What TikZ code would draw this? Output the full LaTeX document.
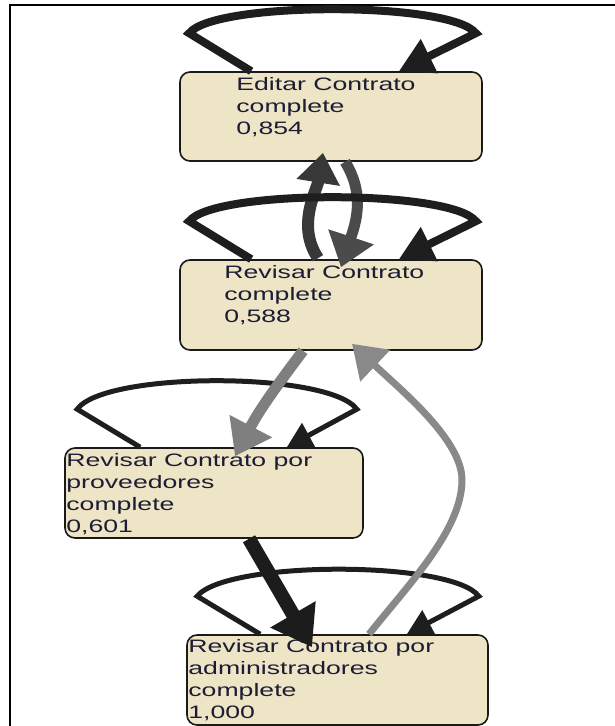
\documentclass[tikz,border=0pt]{standalone}
\usepackage{fontspec}
\newfontfamily\lblfont[FakeStretch=1.48]{Liberation Sans}
\usetikzlibrary{arrows.meta,calc}
\definecolor{boxfill}{HTML}{EEE4C6}
\definecolor{boxline}{HTML}{1A1A1A}
\definecolor{txt}{HTML}{1C1C34}
\definecolor{loopc}{HTML}{1E1E1E}
\definecolor{eup}{HTML}{383838}
\definecolor{edown}{HTML}{4B4B4B}
\definecolor{egray}{HTML}{7F7F7F}
\definecolor{eblack}{HTML}{1C1C1C}
\definecolor{eback}{HTML}{898989}
\tikzset{
  box/.style={draw=boxline, fill=boxfill, line width=1.6pt, rounded corners=10pt, rectangle, inner sep=0pt},
  lbl/.style={font=\lblfont\fontsize{18pt}{22pt}\selectfont, align=left, inner sep=0pt, anchor=base west, text=txt},
  loopthick/.style={draw=loopc, line width=8pt, line join=miter, -{Triangle[length=34pt,width=36pt]}},
  loopthin/.style={draw=loopc, line width=5pt, line join=miter, -{Triangle[length=25pt,width=27pt]}},
}
\begin{document}
\begin{tikzpicture}[x=1pt,y=-1pt]
\useasboundingbox (0,0) rectangle (615,726);
% frame
\draw[line width=2pt, black] (10,726) -- (10,5) -- (615,5);
% boxes
\node[box, minimum width=302pt, minimum height=89pt] (n1) at (331,116.5) {};
\node[box, minimum width=302pt, minimum height=90pt] (n2) at (331,305) {};
\node[box, minimum width=298pt, minimum height=90pt] (n3) at (214,493) {};
\node[box, minimum width=301pt, minimum height=90pt] (n4) at (337.5,680) {};
% labels (base anchor = baseline of the last line)
\node[lbl] (t1) at ($(n1.north west)+(57,63)$) {Editar Contrato\\complete\\0,854};
\node[lbl] (t2) at ($(n2.north west)+(45,63)$) {Revisar Contrato\\complete\\0,588};
\node[lbl] (t3) at ($(n3.north west)+(2,85)$) {Revisar Contrato por\\proveedores\\complete\\0,601};
\node[lbl] (t4) at ($(n4.north west)+(2,84)$) {Revisar Contrato por\\administradores\\complete\\1,000};
% edges between n1 and n2
\draw[eup, line width=12pt, -{Triangle[length=30pt,width=42pt]}]
  ($(n2.north)+(-13,-1)$) .. controls (296,225) and (317,190) .. ($(n1.south)+(-8,-9)$);
\draw[edown, line width=11pt, -{Triangle[length=32pt,width=46pt]}]
  ($(n1.south)+(14,0)$) .. controls (366,195) and (355,225) .. ($(n2.north)+(10,8)$);
% self loops n1, n2
\draw[loopthick] ($(n1.north west)+(72,0)$) -- ($(n1.north west)+(10,-38)$)
  .. controls ($(n1.north west)+(35,-70)$) and ($(n1.north east)+(-32,-70)$) .. ($(n1.north east)+(-7,-38)$)
  -- ($(n1.north east)+(-84,0)$);
\draw[loopthick] ($(n2.north west)+(72,0)$) -- ($(n2.north west)+(10,-38)$)
  .. controls ($(n2.north west)+(35,-70)$) and ($(n2.north east)+(-32,-70)$) .. ($(n2.north east)+(-7,-38)$)
  -- ($(n2.north east)+(-84,0)$);
% self loops n3, n4
\draw[loopthin] ($(n3.north west)+(76,0)$) -- ($(n3.north west)+(13,-38)$)
  .. controls ($(n3.north west)+(40,-76)$) and ($(n3.north east)+(-35,-76)$) .. ($(n3.north east)+(-7,-38)$)
  -- ($(n3.north east)+(-77,0)$);
\draw[loopthin] ($(n4.north west)+(74,0)$) -- ($(n4.north west)+(11,-38)$)
  .. controls ($(n4.north west)+(40,-74)$) and ($(n4.north east)+(-37,-74)$) .. ($(n4.north east)+(-10,-38)$)
  -- ($(n4.north east)+(-82,0)$);
% other edges
\draw[egray, line width=11pt, -{Triangle[length=34pt,width=46pt]}]
  ($(n2.south)+(-28,0)$) .. controls (285,375) and (262,405) .. ($(n3.north)+(21,9)$);
\draw[eblack, line width=14pt, -{Triangle[length=38pt,width=50pt]}]
  ($(n3.south)+(35,0)$) -- ($(n4.north)+(-25.5,13)$);
\draw[eback, line width=7pt, -{Triangle[length=32pt,width=42pt]}]
  ($(n4.north)+(31.5,0)$) .. controls (408,585) and (462,530) .. (462,480)
  .. controls (462,440) and (402,391) .. ($(n2.south)+(21,-7)$);
\end{tikzpicture}
\end{document}
